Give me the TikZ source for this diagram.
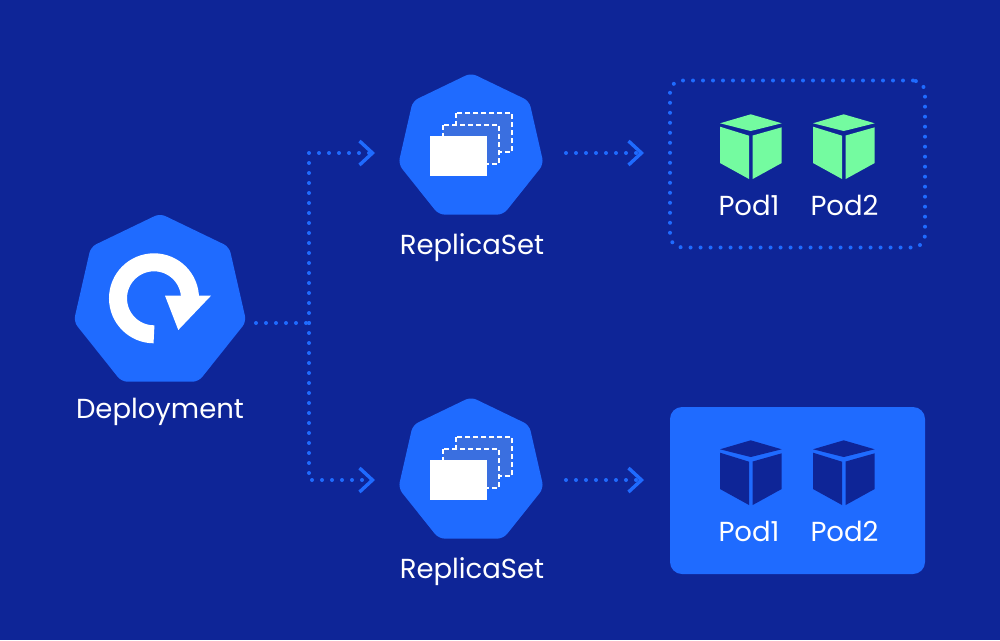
\documentclass[tikz,border=0pt]{standalone}
\usepackage{fontspec}
\setmainfont{Poppins}
\usetikzlibrary{shapes.geometric, arrows.meta}
\definecolor{bgblue}{HTML}{0E2597}
\definecolor{midblue}{HTML}{1F6BFF}
\definecolor{paleblue}{HTML}{3A6FE0}
\definecolor{podgreen}{HTML}{74FBA0}
\tikzset{
    hept/.style={regular polygon, regular polygon sides=7, fill=midblue, inner sep=0pt, outer sep=0pt, rounded corners=6pt},
    dotline/.style={draw=midblue, line width=4pt, line cap=round, dash pattern=on 0pt off 10pt},
    dotarrow/.style={dotline, -{Straight Barb[length=13pt, width=24pt, line width=3.4pt, line cap=butt]}},
    podbox/.style={minimum width=255pt, minimum height=167pt, inner sep=0pt, outer sep=0pt, rounded corners=12pt},
    lbl/.style={text=white, anchor=base, inner sep=0pt, font=\fontsize{27.5}{27.5}\selectfont},
    stacked/.style={draw=white, fill=paleblue, line width=1.5pt, dash pattern=on 5pt off 3pt},
}

\begin{document}
\begin{tikzpicture}[x=1pt, y=-1pt]
        \useasboundingbox (0,0) rectangle (1000,640);
        \fill[bgblue] (0,0) rectangle (1000,640);

        % Deployment
        \node[hept, minimum size=177pt] (deploy) at (160,302) {};
        \node[lbl] (deploylabel) at (160,418) {Deployment};
        \draw[white, line width=18pt] (190,298.3) arc[start angle=0, end angle=270, radius=36pt];
        \fill[white] (165,295.7) -- (211,295.7) -- (178.3,330) -- cycle;

        % ReplicaSets
        \foreach \n/\y in {a/0,b/324}{
            \node[hept, minimum size=149pt] (rs\n) at (471,147.5+\y) {};
            \node[lbl] (rslabel\n) at (472,254+\y) {ReplicaSet};
            \draw[stacked] (456,113+\y) rectangle (512,152+\y);
            \draw[stacked] (443,125+\y) rectangle (499,164+\y);
            \fill[white] (430,136+\y) rectangle (487,176+\y);
        }

        % Pod groups
        \node[podbox, draw=midblue, line width=4pt, line cap=round, dash pattern=on 0pt off 10pt] (boxa) at (797.5,164) {};
        \node[podbox, fill=midblue] (boxb) at (797.5,490.5) {};

        % Pods
        \foreach \x/\y/\c/\n/\l/\t in {0/0/podgreen/a1/749/1,93/0/podgreen/a2/844.5/2,0/326/bgblue/b1/749/1,93/326/bgblue/b2/844.5/2}{
            \fill[\c] (750.7+\x,114.3+\y) -- (781.7+\x,123.3+\y) -- (750.7+\x,131+\y) -- (720+\x,123.3+\y) -- cycle;
            \fill[\c] (720+\x,126.7+\y) -- (749+\x,135.7+\y) -- (749+\x,179+\y) -- (720+\x,163+\y) -- cycle;
            \fill[\c] (752.7+\x,135.5+\y) -- (781.7+\x,127.3+\y) -- (781.7+\x,163+\y) -- (752.7+\x,179+\y) -- cycle;
            \node[lbl] (pod\n) at (\l,215+\y) {Pod\t};
        }

        % Connectors
        \coordinate (hubstart) at (256,323);
        \coordinate (hub) at (309,323);
        \coordinate (tipa) at (375,153);
        \coordinate (tipb) at (375,480);
        \coordinate (outa) at (566,153);
        \coordinate (outb) at (566,480);
        \coordinate (ina) at (644,153);
        \coordinate (inb) at (644,480);
        \draw[dotline] (hubstart) -- (hub);
        \draw[dotarrow] (hub) |- (tipa);
        \draw[dotarrow] (hub) |- (tipb);
        \draw[dotarrow] (outa) -- (ina);
        \draw[dotarrow] (outb) -- (inb);
    \end{tikzpicture}
\end{document}
